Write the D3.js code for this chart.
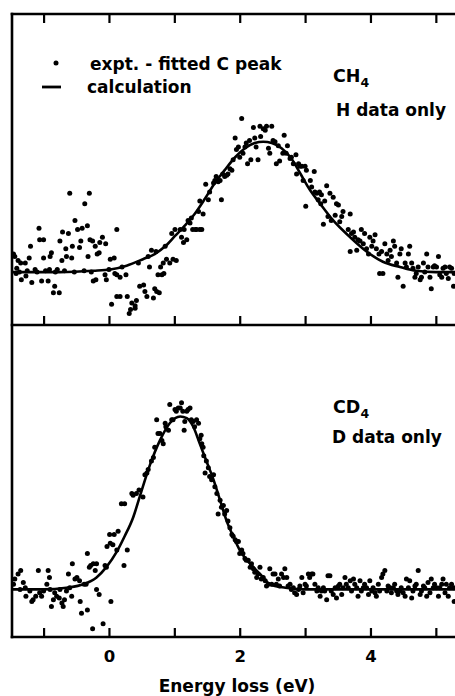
<!DOCTYPE html>
<html>
<head>
<meta charset="utf-8">
<script src="https://cdn.jsdelivr.net/npm/d3@7"></script>
<style>
  body { margin: 0; background: #fff; }
  svg { display: block; }
  text { font-family: "DejaVu Sans", sans-serif; font-weight: bold; fill: #000; }
</style>
</head>
<body>
<svg id="chart" width="455" height="696"></svg>
<script>
// energy loss ticks (eV)
const xTicks = [-1, 0, 1, 2, 3, 4, 5];
const xTickLabels = [0, 2, 4];

// CH4, H data only: [energy loss (eV), intensity (arb.)]
const ch4Expt = [
  [-1.46,0.14],[-1.44,0.12],[-1.39,0.09],[-1.35,0.07],[-1.28,0.07],[-1.22,0.11],[-1.41,0.03],[-1.42,-0.01],
  [-1.34,-0.06],[-1.27,-0.03],[-1.18,-0.08],[-1.13,0.02],[-1.20,0.20],[-1.07,0.34],[-1.06,0.25],[-1.00,0.25],
  [-1.03,-0.07],[-0.93,-0.07],[-0.91,0.02],[-1.00,0.11],[-0.90,0.12],[-0.88,0.15],[-0.83,-0.11],[-0.76,-0.16],
  [-0.85,-0.16],[-0.79,0.02],[-0.72,0.09],[-0.75,0.24],[-0.71,0.31],[-0.66,0.18],[-0.62,0.30],[-0.60,0.61],
  [-0.65,0.12],[-0.57,0.11],[-0.56,0.20],[-0.52,0.40],[-0.48,0.33],[-0.45,0.19],[-0.43,0.24],[-0.41,0.34],
  [-0.37,0.53],[-0.33,0.36],[-0.30,0.61],[-0.32,0.12],[-0.29,0.25],[-0.25,0.24],[-0.21,0.20],[-0.18,0.14],
  [-0.15,0.15],[-0.14,0.23],[-0.10,0.27],[-0.06,-0.02],[-0.04,-0.06],[-0.24,-0.07],[-0.20,-0.06],[0.02,0.10],
  [-0.05,0.22],[0.08,0.11],[0.12,0.33],[0.09,-0.01],[0.12,-0.02],[0.17,-0.04],[0.26,-0.02],[0.04,-0.25],
  [0.12,-0.19],[0.17,-0.19],[0.28,-0.19],[0.31,-0.32],[0.33,-0.29],[0.35,-0.24],[0.42,-0.22],[0.40,-0.26],
  [0.40,-0.28],[0.47,-0.11],[0.53,-0.10],[0.55,-0.15],[0.58,-0.19],[0.62,0.04],[0.65,0.17],[0.68,-0.20],
  [0.70,-0.13],[0.73,-0.15],[0.77,-0.16],[0.75,-0.02],[0.79,0.04],[0.83,0.07],[0.81,-0.02],[0.84,-0.01],
  [0.88,0.10],[0.93,0.07],[0.98,0.10],[1.03,0.09],[0.96,0.30],[1.01,0.33],[1.09,0.33],[1.11,0.27],
  [1.14,0.23],[1.15,0.33],[1.19,0.25],[1.21,0.40],[1.24,0.38],[1.28,0.33],[1.26,0.42],[1.32,0.33],
  [1.34,0.33],[1.39,0.33],[1.42,0.33],[1.37,0.47],[1.44,0.45],[1.39,0.55],[1.48,0.68],[1.52,0.56],
  [1.54,0.62],[1.60,0.69],[1.62,0.71],[1.64,0.74],[1.67,0.70],[1.70,0.71],[1.72,0.56],[1.74,0.76],
  [1.77,0.74],[1.80,0.75],[1.82,0.76],[1.85,0.80],[1.88,0.79],[1.90,0.87],[1.93,1.04],[1.95,0.95],
  [1.98,0.97],[2.00,0.89],[2.03,1.19],[2.05,0.92],[2.08,0.97],[2.10,1.00],[2.12,0.84],[2.15,1.02],
  [2.17,0.87],[2.21,1.12],[2.23,1.04],[2.25,0.97],[2.28,0.87],[2.31,1.13],[2.32,1.05],[2.36,1.11],
  [2.39,1.10],[2.41,1.13],[2.44,0.96],[2.46,0.92],[2.49,1.13],[2.51,1.02],[2.54,1.01],[2.56,0.84],
  [2.59,0.98],[2.61,0.86],[2.66,0.92],[2.68,1.06],[2.71,0.92],[2.73,0.98],[2.77,0.88],[2.79,0.89],
  [2.82,0.84],[2.86,0.91],[2.87,0.76],[2.90,0.84],[2.92,0.82],[2.95,0.82],[2.97,0.71],[3.00,0.82],
  [3.02,0.79],[3.01,0.51],[3.08,0.71],[3.10,0.66],[3.14,0.78],[3.15,0.62],[3.18,0.61],[3.20,0.56],
  [3.22,0.62],[3.24,0.53],[3.28,0.37],[3.25,0.60],[3.30,0.55],[3.33,0.67],[3.35,0.43],[3.38,0.61],
  [3.40,0.40],[3.43,0.58],[3.46,0.44],[3.48,0.53],[3.51,0.52],[3.53,0.39],[3.56,0.43],[3.58,0.47],
  [3.66,0.33],[3.69,0.45],[3.69,0.16],[3.71,0.30],[3.74,0.31],[3.76,0.27],[3.79,0.17],[3.81,0.25],
  [3.84,0.24],[3.86,0.33],[3.89,0.22],[3.91,0.30],[3.94,0.18],[3.97,0.14],[3.99,0.27],[4.02,0.20],
  [4.04,0.24],[4.07,0.29],[4.09,0.18],[4.13,0.14],[4.14,-0.01],[4.17,0.16],[4.19,-0.01],[4.22,0.22],
  [4.25,0.14],[4.27,0.09],[4.30,0.17],[4.32,0.12],[4.35,0.24],[4.37,0.20],[4.40,0.07],[4.42,-0.04],
  [4.45,0.14],[4.47,0.18],[4.50,-0.11],[4.53,0.07],[4.55,0.04],[4.58,0.14],[4.60,0.20],[4.63,0.07],
  [4.65,0.03],[4.68,-0.04],[4.70,-0.01],[4.73,0.04],[4.76,-0.06],[4.78,-0.04],[4.81,0.07],[4.83,0.00],
  [4.86,0.14],[4.88,0.04],[4.91,-0.04],[4.93,-0.13],[4.96,0.04],[4.98,0.05],[5.01,0.04],[5.04,0.12],
  [5.06,-0.02],[5.09,-0.04],[5.11,0.03],[5.14,0.04],[5.16,-0.01],[5.19,-0.05],[5.21,0.04],[5.24,0.03],
  [5.27,-0.11],[5.28,-0.01],
  [-1.37,0.00],[-1.25,0.01],[-1.10,0.00],[-0.97,0.01],[-0.82,0.00],[-0.68,0.01],[-0.53,0.00],[-0.38,0.01],
  [-0.27,0.00],[0.00,0.02],[0.20,0.04],[0.45,0.07],[0.60,0.12],[0.72,0.16],[0.86,0.20]
];

const ch4Calc = [
  [-1.48,0.00],[-0.75,0.00],[-0.24,0.01],[0.02,0.02],[0.27,0.05],[0.52,0.10],[0.70,0.14],[0.86,0.20],
  [1.01,0.28],[1.16,0.36],[1.31,0.45],[1.47,0.57],[1.62,0.69],[1.77,0.79],[1.93,0.89],[2.08,0.96],
  [2.23,1.00],[2.36,1.01],[2.49,1.00],[2.64,0.96],[2.79,0.88],[2.92,0.77],[3.07,0.64],[3.23,0.53],
  [3.43,0.40],[3.69,0.27],[3.94,0.16],[4.19,0.08],[4.45,0.04],[4.70,0.01],[5.00,0.00],[5.40,0.00]
];

// CD4, D data only: [energy loss (eV), intensity (arb.)]
const cd4Expt = [
  [-1.46,0.03],[-1.44,0.06],[-1.39,0.09],[-1.35,0.11],[-1.31,0.04],[-1.28,0.01],[-1.27,-0.04],[-1.21,-0.01],
  [-1.18,-0.07],[-1.16,-0.06],[-1.12,-0.04],[-1.08,0.11],[-1.06,-0.02],[-1.03,-0.04],[-1.00,-0.01],[-0.95,0.03],
  [-0.93,0.11],[-0.91,0.07],[-0.88,-0.10],[-0.85,-0.06],[-0.83,-0.02],[-0.80,-0.04],[-0.76,-0.05],[-0.72,-0.08],
  [-0.70,-0.10],[-0.68,-0.06],[-0.65,-0.01],[-0.62,0.09],[-0.60,0.01],[-0.57,-0.04],[-0.56,0.15],[-0.52,0.06],
  [-0.49,0.07],[-0.45,0.05],[-0.44,-0.07],[-0.42,-0.14],[-0.38,0.03],[-0.35,0.03],[-0.33,-0.12],[-0.33,0.21],
  [-0.30,0.13],[-0.28,0.14],[-0.24,0.15],[-0.21,0.11],[-0.19,0.15],[-0.25,-0.23],[-0.19,0.00],[-0.15,-0.03],
  [-0.09,-0.20],[-0.06,0.14],[-0.04,0.13],[-0.03,0.25],[0.01,0.32],[0.03,-0.07],[0.02,0.27],[0.06,0.26],
  [0.08,0.32],[0.12,0.23],[0.14,0.34],[0.19,0.50],[0.24,0.50],[0.23,0.14],[0.28,0.23],[0.35,0.56],
  [0.37,0.55],[0.42,0.56],[0.46,0.58],[0.52,0.54],[0.55,0.67],[0.58,0.68],[0.60,0.70],[0.65,0.75],
  [0.68,0.77],[0.70,0.83],[0.73,0.99],[0.75,0.91],[0.78,0.91],[0.81,0.87],[0.83,0.85],[0.86,0.97],
  [0.87,0.95],[0.91,0.93],[0.93,1.08],[0.96,0.99],[0.98,0.99],[1.01,1.05],[1.03,1.04],[1.06,1.06],
  [1.09,1.06],[1.11,1.09],[1.13,1.04],[1.15,0.93],[1.16,0.98],[1.19,1.04],[1.21,1.05],[1.24,1.06],
  [1.26,0.99],[1.29,0.98],[1.31,0.95],[1.34,0.99],[1.37,0.97],[1.39,0.88],[1.41,0.90],[1.42,0.85],
  [1.44,0.83],[1.45,0.78],[1.47,0.68],[1.49,0.75],[1.52,0.71],[1.54,0.66],[1.57,0.64],[1.60,0.67],
  [1.62,0.60],[1.65,0.56],[1.67,0.44],[1.70,0.52],[1.72,0.48],[1.75,0.49],[1.77,0.44],[1.80,0.46],
  [1.82,0.40],[1.85,0.36],[1.88,0.32],[1.90,0.31],[1.93,0.29],[1.95,0.28],[1.98,0.28],[2.00,0.21],
  [2.03,0.23],[2.05,0.21],[2.08,0.18],[2.10,0.17],[2.13,0.17],[2.16,0.13],[2.18,0.15],[2.21,0.12],
  [2.23,0.10],[2.26,0.07],[2.28,0.09],[2.31,0.13],[2.33,0.06],[2.36,0.07],[2.39,0.05],[2.41,0.02],
  [2.44,0.03],[2.46,0.12],[2.49,0.03],[2.51,0.09],[2.54,0.09],[2.56,0.03],[2.59,0.06],[2.61,0.02],
  [2.64,0.09],[2.67,0.07],[2.69,0.12],[2.72,0.07],[2.74,0.02],[2.77,0.03],[2.79,0.00],[2.82,0.01],
  [2.84,-0.02],[2.87,-0.03],[2.90,0.00],[2.92,0.02],[2.95,0.07],[2.97,-0.02],[3.00,0.03],[3.02,0.02],
  [3.05,0.09],[3.07,0.07],[3.10,0.09],[3.12,0.09],[3.15,0.03],[3.18,-0.01],[3.20,0.01],[3.23,-0.04],
  [3.25,-0.01],[3.28,0.01],[3.30,-0.01],[3.33,-0.06],[3.35,0.08],[3.38,0.08],[3.40,-0.01],[3.43,-0.03],
  [3.46,0.01],[3.48,-0.05],[3.51,0.02],[3.53,0.03],[3.56,-0.03],[3.58,0.01],[3.61,0.07],[3.63,0.03],
  [3.66,0.01],[3.69,0.05],[3.71,-0.01],[3.74,0.06],[3.76,0.03],[3.79,0.01],[3.81,-0.04],[3.84,0.05],
  [3.86,-0.01],[3.89,0.01],[3.91,0.03],[3.94,0.01],[3.97,-0.03],[3.99,0.05],[4.02,-0.01],[4.04,0.01],
  [4.07,-0.02],[4.09,-0.04],[4.12,0.03],[4.14,-0.01],[4.17,0.07],[4.19,0.09],[4.22,0.11],[4.25,-0.01],
  [4.27,0.02],[4.30,0.01],[4.32,-0.02],[4.35,0.01],[4.37,0.03],[4.40,-0.01],[4.42,-0.03],[4.45,-0.01],
  [4.47,0.01],[4.50,-0.02],[4.53,-0.04],[4.55,0.06],[4.58,0.01],[4.60,0.05],[4.63,-0.05],[4.65,-0.01],
  [4.68,0.02],[4.70,0.03],[4.73,0.11],[4.76,-0.03],[4.78,-0.01],[4.81,0.02],[4.83,0.01],[4.86,-0.04],
  [4.88,0.04],[4.91,-0.02],[4.93,0.06],[4.96,0.01],[4.98,0.03],[5.01,0.01],[5.04,-0.04],[5.06,0.01],
  [5.09,0.03],[5.11,0.06],[5.14,-0.02],[5.16,0.03],[5.19,-0.04],[5.21,0.01],[5.24,0.03],[5.27,0.01],
  [5.28,-0.07],[-1.36,0.00],[-0.90,0.00],[-0.75,0.00]
];

const cd4Calc = [
  [-1.48,0.00],[-1.00,0.00],[-0.65,0.01],[-0.39,0.03],[-0.19,0.07],[-0.04,0.13],[0.12,0.22],[0.24,0.31],
  [0.37,0.42],[0.47,0.54],[0.63,0.73],[0.78,0.87],[0.93,0.97],[1.09,1.01],[1.19,1.00],[1.29,0.95],
  [1.39,0.85],[1.49,0.75],[1.60,0.64],[1.70,0.52],[1.80,0.40],[1.90,0.31],[2.00,0.23],[2.16,0.15],
  [2.31,0.09],[2.46,0.03],[2.70,0.01],[3.00,0.00],[5.40,0.00]
];

const svg = d3.select("#chart");

const frame = { left: 12, right: 462, top: 14, mid: 325, bottom: 637 };

const x = d3.scaleLinear().domain([-1.483, 5.4]).range([frame.left, frame.right]);
const yTop = d3.scaleLinear().domain([-0.41, 2.0]).range([frame.mid, frame.top]);
const yBottom = d3.scaleLinear().domain([-0.278, 1.544]).range([frame.bottom, frame.mid]);

const dotRadius = 2.5;

function drawPanel(y, expt, calc) {
  const g = svg.append("g");

  g.append("g")
    .selectAll("circle")
    .data(expt)
    .join("circle")
    .attr("cx", (d) => x(d[0]))
    .attr("cy", (d) => y(d[1]))
    .attr("r", dotRadius)
    .attr("fill", "#000");

  const line = d3
    .line()
    .curve(d3.curveMonotoneX)
    .x((d) => x(d[0]))
    .y((d) => y(d[1]));

  g.append("path")
    .datum(calc)
    .attr("d", line)
    .attr("fill", "none")
    .attr("stroke", "#000")
    .attr("stroke-width", 2.6);
}

drawPanel(yTop, ch4Expt, ch4Calc);
drawPanel(yBottom, cd4Expt, cd4Calc);

// tick marks (inward)
const tickAxis = (axis, yPos) => {
  const g = svg.append("g")
    .attr("transform", `translate(0,${yPos})`)
    .call(axis.tickValues(xTicks).tickSize(9).tickFormat(""));
  g.select(".domain").remove();
  g.selectAll("line").attr("stroke", "#000").attr("stroke-width", 2.2);
};
tickAxis(d3.axisBottom(x), frame.top);
tickAxis(d3.axisTop(x), frame.mid);
tickAxis(d3.axisTop(x), frame.bottom);

// frame
const frameLines = [
  [frame.left, frame.top, frame.right, frame.top],
  [frame.left, frame.mid, frame.right, frame.mid],
  [frame.left, frame.bottom, frame.right, frame.bottom],
  [frame.left, frame.top, frame.left, frame.bottom],
  [frame.right, frame.top, frame.right, frame.bottom]
];
svg.append("g")
  .selectAll("line")
  .data(frameLines)
  .join("line")
  .attr("x1", (d) => d[0])
  .attr("y1", (d) => d[1])
  .attr("x2", (d) => d[2])
  .attr("y2", (d) => d[3])
  .attr("stroke", "#000")
  .attr("stroke-width", 2.6)
  .attr("stroke-linecap", "square");

// tick labels
const labelAxis = svg.append("g")
  .attr("transform", `translate(0,${frame.bottom})`)
  .call(d3.axisBottom(x).tickValues(xTickLabels).tickFormat(d3.format("d")).tickSize(0).tickPadding(13));
labelAxis.select(".domain").remove();
labelAxis.selectAll("text")
  .attr("font-family", "DejaVu Sans")
  .attr("font-weight", "bold")
  .attr("font-size", 16.5)
  .attr("fill", "#000");

svg.append("text")
  .attr("x", (frame.left + frame.right) / 2)
  .attr("y", 692)
  .attr("text-anchor", "middle")
  .attr("font-size", 17)
  .text("Energy loss (eV)");

// legend
svg.append("circle").attr("cx", 56).attr("cy", 63).attr("r", dotRadius);
svg.append("text").attr("x", 90).attr("y", 69.5).attr("font-size", 17).text("expt. - fitted C peak");
svg.append("line")
  .attr("x1", 42).attr("x2", 61).attr("y1", 87).attr("y2", 87)
  .attr("stroke", "#000").attr("stroke-width", 2.8);
svg.append("text").attr("x", 87).attr("y", 93).attr("font-size", 17).text("calculation");

// panel labels
function molecule(xPos, yPos, base) {
  const t = svg.append("text").attr("x", xPos).attr("y", yPos).attr("font-size", 17.5);
  t.append("tspan").text(base);
  t.append("tspan").attr("font-size", 12.5).attr("dy", 5).text("4");
}
molecule(333, 82, "CH");
svg.append("text").attr("x", 336).attr("y", 116).attr("font-size", 17).text("H data only");
molecule(333, 413, "CD");
svg.append("text").attr("x", 332).attr("y", 443).attr("font-size", 17).text("D data only");
</script>
</body>
</html>
